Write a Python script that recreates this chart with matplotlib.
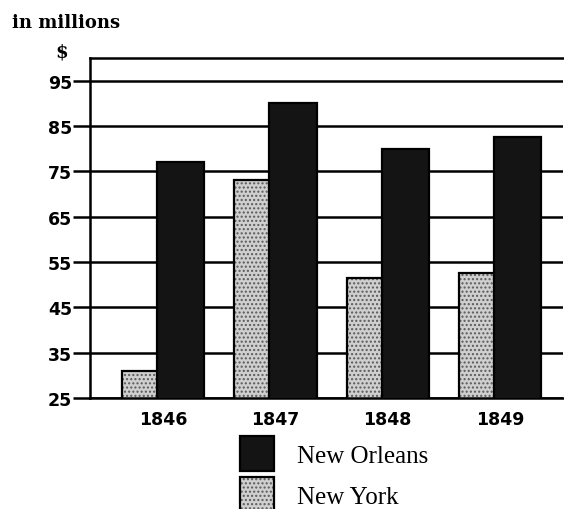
import numpy as np
import matplotlib
matplotlib.use("Agg")
import matplotlib.pyplot as plt

# values in millions of dollars
years = ["1846", "1847", "1848", "1849"]
new_orleans = [77, 90, 80, 82.5]
new_york = [31, 73, 51.5, 52.5]
yticks = [25, 35, 45, 55, 65, 75, 85, 95]

plt.rcParams["hatch.color"] = "#5a5a5a"
plt.rcParams["hatch.linewidth"] = 1.0

fig = plt.figure(figsize=(5.64, 5.10), dpi=100)
ax = fig.add_axes([90/564, 1 - 399/510, 473/564, 340/510])

x = np.arange(len(years))
w = 0.42
off = 0.156

ny_fill = ax.bar(x - off, new_york, w, color="#cfcfcf", hatch="....", zorder=2)
ny_edge = ax.bar(x - off, new_york, w, fill=False, edgecolor="black", lw=1.6, zorder=2.1)
no_bar = ax.bar(x + off, new_orleans, w, color="#141414", edgecolor="black", lw=1.6, zorder=3)

ax.set_xlim(-0.65, 3.56)
ax.set_ylim(25, 100)
ax.set_yticks(yticks, labels=[str(t) for t in yticks], fontweight="bold", fontsize=12.5)
ax.set_xticks(x, labels=years, fontweight="bold", fontsize=12.5)
ax.tick_params(axis="y", length=12, width=1.8, pad=1)
ax.tick_params(axis="x", length=0, pad=9)
ax.grid(axis="y", color="black", lw=1.8)
ax.set_axisbelow(True)

for s in ["left", "bottom", "top"]:
    ax.spines[s].set_linewidth(1.8)
ax.spines["right"].set_visible(False)

fig.text(12/564, 1 - 28/510, "in millions", family="DejaVu Serif",
         fontweight="bold", fontsize=13, va="baseline")
fig.text(62/564, 1 - 57/510, "$", family="DejaVu Serif",
         fontweight="bold", fontsize=13, ha="center", va="baseline")

fig.legend([no_bar, (ny_fill, ny_edge)], ["New Orleans", "New York"],
           loc="upper left", bbox_to_anchor=(240/564, 1 - 437/510),
           frameon=False, prop={"family": "Liberation Serif", "size": 18},
           handlelength=1.36, handleheight=1.78, handletextpad=0.92,
           labelspacing=0.24, borderpad=0, borderaxespad=0)

fig.savefig("out.png", dpi=100)
